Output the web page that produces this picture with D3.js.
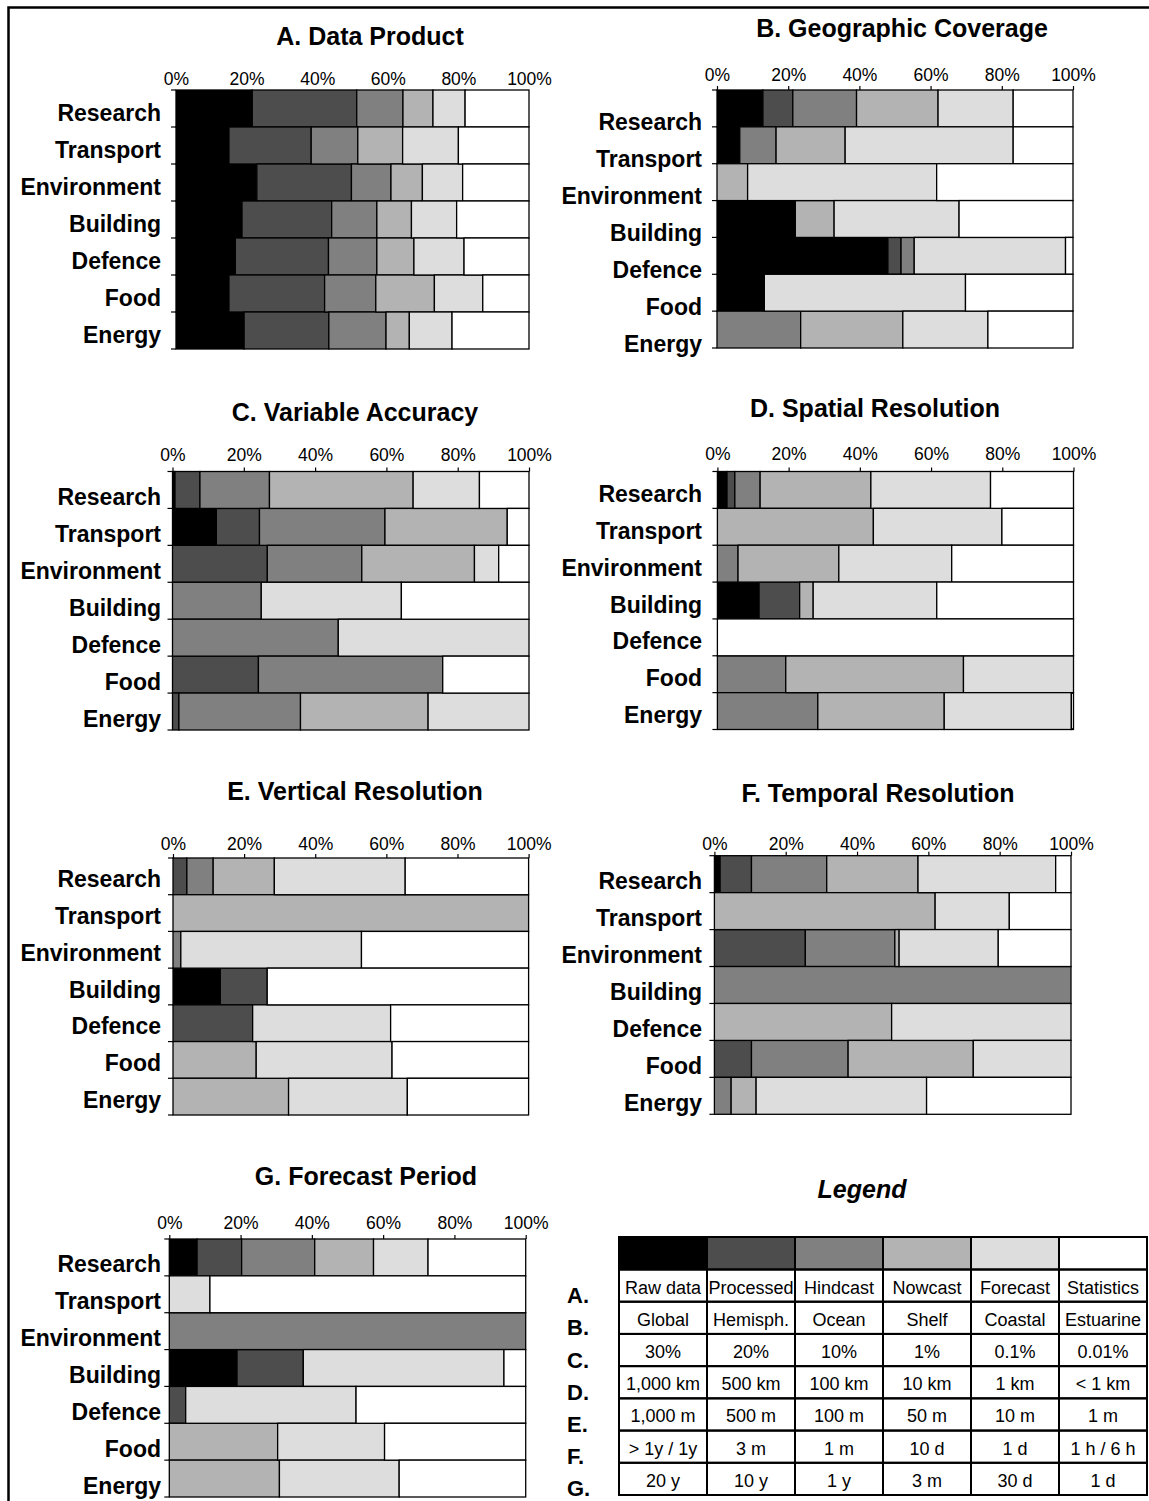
<!DOCTYPE html>
<html>
<head>
<meta charset="utf-8">
<script src="https://cdn.jsdelivr.net/npm/d3@7"></script>
<style>
  body { margin: 0; background: #fff; }
  svg { display: block; font-family: "Liberation Sans", Arial, sans-serif; }
</style>
</head>
<body>
<div id="chart"></div>
<script>
// categories, top to bottom
const sectors = ["Research", "Transport", "Environment", "Building", "Defence", "Food", "Energy"];
const shades = ["#000000", "#4d4d4d", "#808080", "#b3b3b3", "#dddddd", "#ffffff"];
const tickValues = [0, 20, 40, 60, 80, 100];

// % share of each class (black -> white), one row per sector
const dataProduct = [
    [21.6, 29.6, 13.1, 8.5, 9.1, 18.1],
    [15.0, 23.3, 13.2, 12.7, 15.8, 20.0],
    [22.9, 26.8, 11.2, 8.9, 11.4, 18.8],
    [18.7, 25.4, 12.8, 9.8, 12.8, 20.5],
    [16.8, 26.4, 13.7, 10.5, 14.2, 18.4],
    [15.0, 27.1, 14.5, 16.6, 13.7, 13.1],
    [19.3, 24.0, 16.2, 6.6, 12.1, 21.8]
];
const geoCoverage = [
    [12.9, 8.4, 17.9, 22.9, 21.1, 16.8],
    [6.4, 0, 10.2, 19.4, 47.2, 16.8],
    [0, 0, 0, 8.6, 53.1, 38.3],
    [22.0, 0, 0, 10.9, 35.1, 32.0],
    [48.0, 3.7, 3.7, 0, 42.5, 2.1],
    [13.3, 0, 0, 0, 56.5, 30.2],
    [0, 0, 23.5, 28.7, 23.9, 23.9]
];
const varAccuracy = [
    [0.7, 7.0, 19.5, 40.3, 18.6, 13.9],
    [12.3, 12.1, 35.2, 34.3, 0, 6.1],
    [0, 26.6, 26.5, 31.6, 6.8, 8.5],
    [0, 0, 24.9, 0, 39.3, 35.8],
    [0, 0, 46.5, 0, 53.5, 0],
    [0, 24.1, 51.7, 0, 0, 24.2],
    [0, 1.8, 34.1, 35.8, 28.3, 0]
];
const spatialRes = [
    [2.7, 2.2, 7.1, 31.1, 33.6, 23.3],
    [0, 0, 0, 43.8, 36.1, 20.1],
    [0, 0, 5.8, 28.3, 31.7, 34.2],
    [11.7, 11.4, 0, 3.8, 34.7, 38.4],
    [0, 0, 0, 0, 0, 100],
    [0, 0, 19.2, 49.9, 30.9, 0],
    [0, 0, 28.2, 35.5, 35.7, 0.6]
];
const verticalRes = [
    [0, 3.9, 7.4, 17.2, 36.8, 34.7],
    [0, 0, 0, 100, 0, 0],
    [0, 0, 2.2, 0, 50.8, 47.0],
    [13.3, 13.2, 0, 0, 0, 73.5],
    [0, 22.4, 0, 0, 38.8, 38.8],
    [0, 0, 0, 23.4, 38.2, 38.4],
    [0, 0, 0, 32.5, 33.4, 34.1]
];
const temporalRes = [
    [1.6, 8.8, 21.1, 25.6, 38.6, 4.3],
    [0, 0, 0, 61.9, 20.8, 17.3],
    [0, 25.5, 25.1, 1.2, 27.8, 20.4],
    [0, 0, 100, 0, 0, 0],
    [0, 0, 0, 49.7, 50.3, 0],
    [0, 10.4, 27.1, 35.1, 27.4, 0],
    [0, 0, 4.7, 7.0, 47.8, 40.5]
];
const forecastPeriod = [
    [7.8, 12.5, 20.5, 16.5, 15.3, 27.4],
    [0, 0, 0, 0, 11.4, 88.6],
    [0, 0, 100, 0, 0, 0],
    [19.0, 18.6, 0, 0, 56.3, 6.1],
    [0, 4.6, 0, 0, 47.8, 47.6],
    [0, 0, 0, 30.4, 30.0, 39.6],
    [0, 0, 0, 30.9, 33.6, 35.5]
];

// legend table
const legendLetters = ["A.", "B.", "C.", "D.", "E.", "F.", "G."];
const legendRows = [
    ["Raw data", "Processed", "Hindcast", "Nowcast", "Forecast", "Statistics"],
    ["Global", "Hemisph.", "Ocean", "Shelf", "Coastal", "Estuarine"],
    ["30%", "20%", "10%", "1%", "0.1%", "0.01%"],
    ["1,000 km", "500 km", "100 km", "10 km", "1 km", "< 1 km"],
    ["1,000 m", "500 m", "100 m", "50 m", "10 m", "1 m"],
    ["> 1y / 1y", "3 m", "1 m", "10 d", "1 d", "1 h / 6 h"],
    ["20 y", "10 y", "1 y", "3 m", "30 d", "1 d"]
];

// panel layout
const panels = [
    {title: "A. Data Product", data: dataProduct, x0: 176, x1: 529, top: 90, bottom: 349, tx: 370, ty: 36, tickY: 79, lx: 161, ldy: 4, ticks: false},
    {title: "B. Geographic Coverage", data: geoCoverage, x0: 717, x1: 1073, top: 90, bottom: 348, tx: 902, ty: 28, tickY: 75, lx: 702, ldy: 14, ticks: true},
    {title: "C. Variable Accuracy", data: varAccuracy, x0: 172.5, x1: 529, top: 471.5, bottom: 730, tx: 355, ty: 412, tickY: 455, lx: 161, ldy: 7, ticks: true},
    {title: "D. Spatial Resolution", data: spatialRes, x0: 717.4, x1: 1073.5, top: 471.5, bottom: 729.5, tx: 875, ty: 408, tickY: 454, lx: 702, ldy: 4, ticks: true},
    {title: "E. Vertical Resolution", data: verticalRes, x0: 173, x1: 528.6, top: 858, bottom: 1115, tx: 355, ty: 791, tickY: 844, lx: 161, ldy: 3, ticks: true},
    {title: "F. Temporal Resolution", data: temporalRes, x0: 714.4, x1: 1071, top: 855.7, bottom: 1114.3, tx: 878, ty: 793, tickY: 844, lx: 702, ldy: 7, ticks: true},
    {title: "G. Forecast Period", data: forecastPeriod, x0: 169.3, x1: 525.7, top: 1239, bottom: 1497, tx: 366, ty: 1176, tickY: 1223, lx: 161, ldy: 7, ticks: true}
];

const svg = d3.select("#chart").append("svg")
    .attr("width", 1149)
    .attr("height", 1501);

// outer frame (left and top edges)
svg.append("path")
    .attr("d", "M1149,7.5H8.5V1501")
    .attr("fill", "none")
    .attr("stroke", "#000")
    .attr("stroke-width", 2.5);

const stack = d3.stack().keys(d3.range(6)).value((d, k) => d.values[k]);

panels.forEach((p) => {
    let rows = sectors.map((s, i) => ({sector: s, values: p.data[i]}));
    let series = stack(rows);

    let x = d3.scaleLinear().domain([0, 100]).range([p.x0, p.x1]),
        y = d3.scaleBand().domain(sectors).range([p.top, p.bottom]).padding(0);

    let g = svg.append("g");

    g.append("text")
        .attr("x", p.tx)
        .attr("y", p.ty)
        .attr("text-anchor", "middle")
        .attr("dominant-baseline", "central")
        .attr("font-size", 25)
        .attr("font-weight", "bold")
        .text(p.title);

    g.selectAll("g.series")
        .data(series)
        .enter().append("g")
        .attr("class", "series")
        .attr("fill", (d) => shades[d.key])
        .selectAll("rect")
        .data((d) => d.filter((v) => v[1] - v[0] > 0))
        .enter().append("rect")
        .attr("x", (d) => x(d[0]))
        .attr("y", (d) => y(d.data.sector))
        .attr("width", (d) => x(d[1]) - x(d[0]))
        .attr("height", y.bandwidth())
        .attr("stroke", "#000")
        .attr("stroke-width", 1.3);

    // top percentage axis
    let tickSize = p.ticks ? 4 : 0;
    let axis = g.append("g")
        .attr("transform", "translate(0," + p.top + ")")
        .call(d3.axisTop(x)
            .tickValues(tickValues)
            .tickFormat((d) => d + "%")
            .tickSize(tickSize)
            .tickPadding(p.top - p.tickY - 6 - tickSize));
    axis.select(".domain").remove();
    axis.selectAll("line").attr("stroke", "#000").attr("stroke-width", 1.2);
    axis.selectAll("text")
        .attr("font-family", "'Liberation Sans', Arial, sans-serif")
        .attr("font-size", 17.5)
        .attr("fill", "#000");

    // left ticks at band edges
    let edges = sectors.map((s) => y(s)).concat([p.bottom]);
    g.selectAll("line.edge")
        .data(edges)
        .enter().append("line")
        .attr("class", "edge")
        .attr("x1", p.x0 - 5)
        .attr("x2", p.x0)
        .attr("y1", (d) => d)
        .attr("y2", (d) => d)
        .attr("stroke", "#000")
        .attr("stroke-width", 1.2);

    // sector labels
    g.selectAll("text.cat")
        .data(sectors)
        .enter().append("text")
        .attr("class", "cat")
        .attr("x", p.lx)
        .attr("y", (d) => y(d) + y.bandwidth() / 2 + p.ldy)
        .attr("text-anchor", "end")
        .attr("dominant-baseline", "central")
        .attr("font-size", 23)
        .attr("font-weight", "bold")
        .text((d) => d);
});

// legend
let lg = svg.append("g");
lg.append("text")
    .attr("x", 862)
    .attr("y", 1189)
    .attr("text-anchor", "middle")
    .attr("dominant-baseline", "central")
    .attr("font-size", 25)
    .attr("font-weight", "bold")
    .attr("font-style", "italic")
    .text("Legend");

let col = d3.scaleBand().domain(d3.range(6)).range([619, 1147]);
let row = d3.scaleBand().domain(d3.range(7)).range([1269.5, 1495]);

lg.selectAll("rect.swatch")
    .data(shades)
    .enter().append("rect")
    .attr("class", "swatch")
    .attr("x", (d, i) => col(i))
    .attr("y", 1237)
    .attr("width", col.bandwidth())
    .attr("height", 1269.5 - 1237)
    .attr("fill", (d) => d)
    .attr("stroke", "#000")
    .attr("stroke-width", 2);

legendRows.forEach((r, ri) => {
    lg.selectAll("rect.cell" + ri)
        .data(r)
        .enter().append("rect")
        .attr("x", (d, i) => col(i))
        .attr("y", row(ri))
        .attr("width", col.bandwidth())
        .attr("height", row.bandwidth())
        .attr("fill", "none")
        .attr("stroke", "#000")
        .attr("stroke-width", 2);
    lg.selectAll("text.cell" + ri)
        .data(r)
        .enter().append("text")
        .attr("x", (d, i) => col(i) + col.bandwidth() / 2)
        .attr("y", row(ri) + row.bandwidth() / 2 + 2)
        .attr("text-anchor", "middle")
        .attr("dominant-baseline", "central")
        .attr("font-size", 18)
        .text((d) => d);
});

lg.selectAll("text.letter")
    .data(legendLetters)
    .enter().append("text")
    .attr("x", 567)
    .attr("y", (d, i) => row(i) + row.bandwidth() / 2 + 10)
    .attr("dominant-baseline", "central")
    .attr("font-size", 22)
    .attr("font-weight", "bold")
    .text((d) => d);
</script>
</body>
</html>
